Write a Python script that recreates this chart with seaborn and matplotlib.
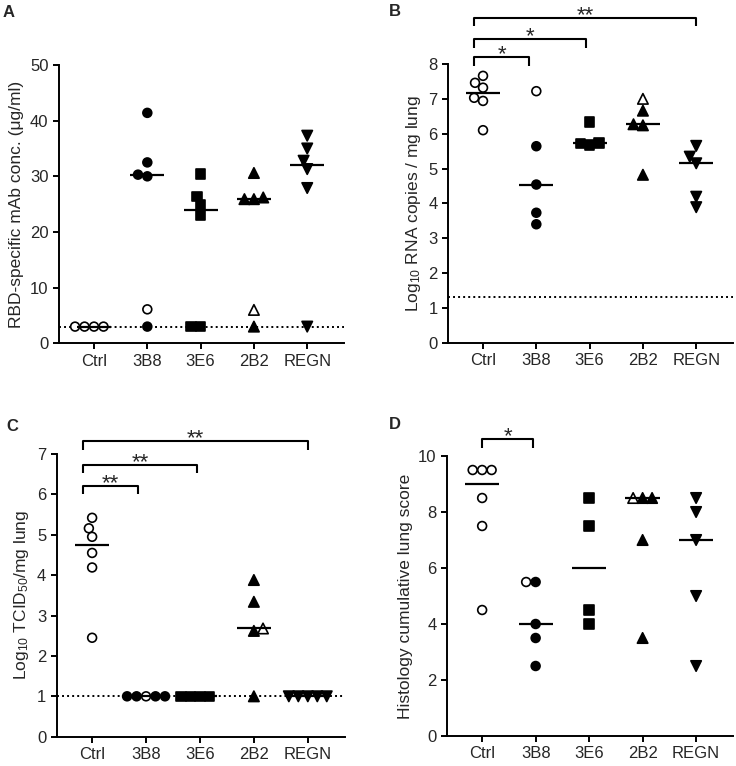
import numpy as np
import pandas as pd
import matplotlib
matplotlib.use("Agg")
import matplotlib.pyplot as plt
import seaborn as sns
from matplotlib.markers import MarkerStyle

# ---------------- data ----------------
groups = ["Ctrl", "3B8", "3E6", "2B2", "REGN"]
group_markers = ["o", "o", "s", "^", "v"]

# Panel A: RBD-specific mAb concentration (ug/ml)
mab_filled = [[], [41.4, 32.5, 30.0, 30.3, 3.0], [30.4, 26.4, 23.1, 24.9, 3.0, 3.0],
              [30.6, 26.2, 25.9, 25.9, 3.0], [37.3, 35.0, 32.8, 31.3, 27.9, 3.0]]
mab_open = [[3.0, 3.0, 3.0, 3.0], [6.1], [], [6.0], []]
mab_lod = 3.0
mab_ticks = [0, 10, 20, 30, 40, 50]

# Panel B: log10 RNA copies / mg lung
rna_filled = [[], [5.64, 4.54, 3.73, 3.40], [6.34, 5.67, 5.74, 5.72],
              [6.66, 6.27, 6.24, 4.82], [5.65, 5.15, 5.34, 4.19, 3.89]]
rna_open = [[7.46, 7.66, 7.03, 7.32, 6.94, 6.10], [7.22], [], [7.0], []]
rna_lod = 1.3
rna_ticks = [0, 1, 2, 3, 4, 5, 6, 7, 8]
rna_sig = [("Ctrl", "3B8", "*"), ("Ctrl", "3E6", "*"), ("Ctrl", "REGN", "**")]
rna_sig_y = [8.19, 8.71, 9.33]

# Panel C: log10 TCID50 / mg lung
tcid_filled = [[], [1.0, 1.0, 1.0, 1.0], [1.0, 1.0, 1.0, 1.0],
               [3.88, 3.34, 2.62, 1.0], [1.0, 1.0, 1.0, 1.0, 1.0]]
tcid_open = [[5.16, 5.42, 4.95, 4.55, 4.19, 2.45], [1.0], [], [2.68], []]
tcid_lod = 1.0
tcid_ticks = [0, 1, 2, 3, 4, 5, 6, 7]
tcid_sig = [("Ctrl", "3B8", "**"), ("Ctrl", "3E6", "**"), ("Ctrl", "REGN", "**")]
tcid_sig_y = [6.21, 6.73, 7.31]

# Panel D: histology cumulative lung score
histo_filled = [[], [5.5, 4.0, 3.5, 2.5], [8.5, 7.5, 4.5, 4.0],
                [8.5, 8.5, 7.0, 3.5], [8.5, 8.0, 7.0, 5.0, 2.5]]
histo_open = [[9.5, 9.5, 9.5, 8.5, 7.5, 4.5], [5.5], [], [8.5], []]
histo_ticks = [0, 2, 4, 6, 8, 10]
histo_sig = [("Ctrl", "3B8", "*")]
histo_sig_y = [10.6]

# ---------------- style ----------------
sns.set_theme(style="ticks")
plt.rcParams["font.family"] = ["Liberation Sans", "DejaVu Sans"]
plt.rcParams["mathtext.default"] = "regular"
plt.rcParams["axes.linewidth"] = 1.4

MARKER_SIZE = 5.3
MARKER_SCALE = {"o": 1.2, "s": 1.3, "^": 1.42, "v": 1.42}
LW = 1.4
XLIM = (-0.657, 4.69)
TICK_FS = 12
LABEL_FS = 12.5
STAR_FS = 16

fig = plt.figure(figsize=(7.36, 7.66), dpi=100)
W, H = 736.0, 766.0


def frame(filled, opened):
    rows = []
    for g, f, o in zip(groups, filled, opened):
        rows += [(g, v, "open") for v in o]
        rows += [(g, v, "filled") for v in f]
    return pd.DataFrame(rows, columns=["group", "value", "state"])


def panel(ax, df, ylim, yticks, ylabel, lod=None, sig=(), sig_y=(),
          left_off=-0.16, right_offs=(), drop_px=8.7):
    sns.swarmplot(data=df, x="group", y="value", hue="state", order=groups,
                  hue_order=["open", "filled"],
                  palette={"open": "white", "filled": "black"},
                  size=MARKER_SIZE, edgecolor="black", linewidth=1.2,
                  legend=False, ax=ax, zorder=3)
    for coll in ax.collections:
        offs = coll.get_offsets()
        if len(offs) == 0:
            continue
        gi = int(round(float(np.median(np.asarray(offs)[:, 0]))))
        m = group_markers[gi]
        ms = MarkerStyle(m)
        path = ms.get_path().transformed(ms.get_transform().scale(MARKER_SCALE[m]))
        coll.set_paths([path])
    sns.boxplot(data=df, x="group", y="value", order=groups, width=0.64,
                showbox=False, showcaps=False, showfliers=False,
                whiskerprops={"visible": False},
                medianprops={"color": "black", "linewidth": 1.6, "zorder": 4},
                ax=ax)
    if lod is not None:
        ax.axhline(lod, color="black", lw=1.4, ls=(0, (1, 1.6)), zorder=1)
    ax.set_xlim(*XLIM)
    ax.set_ylim(*ylim)
    ax.set_yticks(yticks)
    ax.set_xlabel("")
    ax.set_ylabel(ylabel, fontsize=LABEL_FS)
    ax.tick_params(axis="both", labelsize=TICK_FS, width=LW, length=4, color="black")
    sns.despine(ax=ax)
    for s in ("left", "bottom"):
        ax.spines[s].set_linewidth(LW)
        ax.spines[s].set_color("black")
    span = ylim[1] - ylim[0]
    units_per_px = span / (ax.get_position().height * H)
    for (g0, g1, lab), y, roff in zip(sig, sig_y, right_offs):
        x0 = groups.index(g0) + left_off
        x1 = groups.index(g1) + roff
        yb = y - drop_px * units_per_px
        ax.plot([x0, x0, x1, x1], [yb, y, y, yb], color="black", lw=1.5,
                clip_on=False, solid_capstyle="butt")
        ax.annotate(lab, ((x0 + x1) / 2, y), xytext=(0, -2.3),
                    textcoords="offset points", ha="center", va="baseline",
                    fontsize=STAR_FS, annotation_clip=False)


def add_axes(l, r, t, b):
    return fig.add_axes([l / W, 1 - b / H, (r - l) / W, (b - t) / H])


axA = add_axes(59, 344, 65, 343.3)
axB = add_axes(448, 733, 64, 342.7)
axC = add_axes(56.7, 345, 454, 736.7)
axD = add_axes(447, 733, 456, 736)

panel(axA, frame(mab_filled, mab_open), (0, 50), mab_ticks,
      "RBD-specific mAb conc. (\u03bcg/ml)", lod=mab_lod)
panel(axB, frame(rna_filled, rna_open), (0, 8), rna_ticks,
      "Log$_{10}$ RNA copies / mg lung", lod=rna_lod,
      sig=rna_sig, sig_y=rna_sig_y, right_offs=(-0.14, -0.06, 0.0))
panel(axC, frame(tcid_filled, tcid_open), (0, 7), tcid_ticks,
      "Log$_{10}$ TCID$_{50}$/mg lung", lod=tcid_lod,
      sig=tcid_sig, sig_y=tcid_sig_y, right_offs=(-0.15, -0.05, 0.0),
      drop_px=8.3)
panel(axD, frame(histo_filled, histo_open), (0, 10), histo_ticks,
      "Histology cumulative lung score",
      sig=histo_sig, sig_y=histo_sig_y, left_off=0.0, right_offs=(-0.05,),
      drop_px=9.0)

for lab, x, y in [("A", 3, 5), ("B", 389, 4), ("C", 6, 419), ("D", 389, 417)]:
    fig.text(x / W, 1 - y / H, lab, fontsize=12, fontweight="bold",
             va="top", ha="left")

fig.savefig("out.png", dpi=100)
